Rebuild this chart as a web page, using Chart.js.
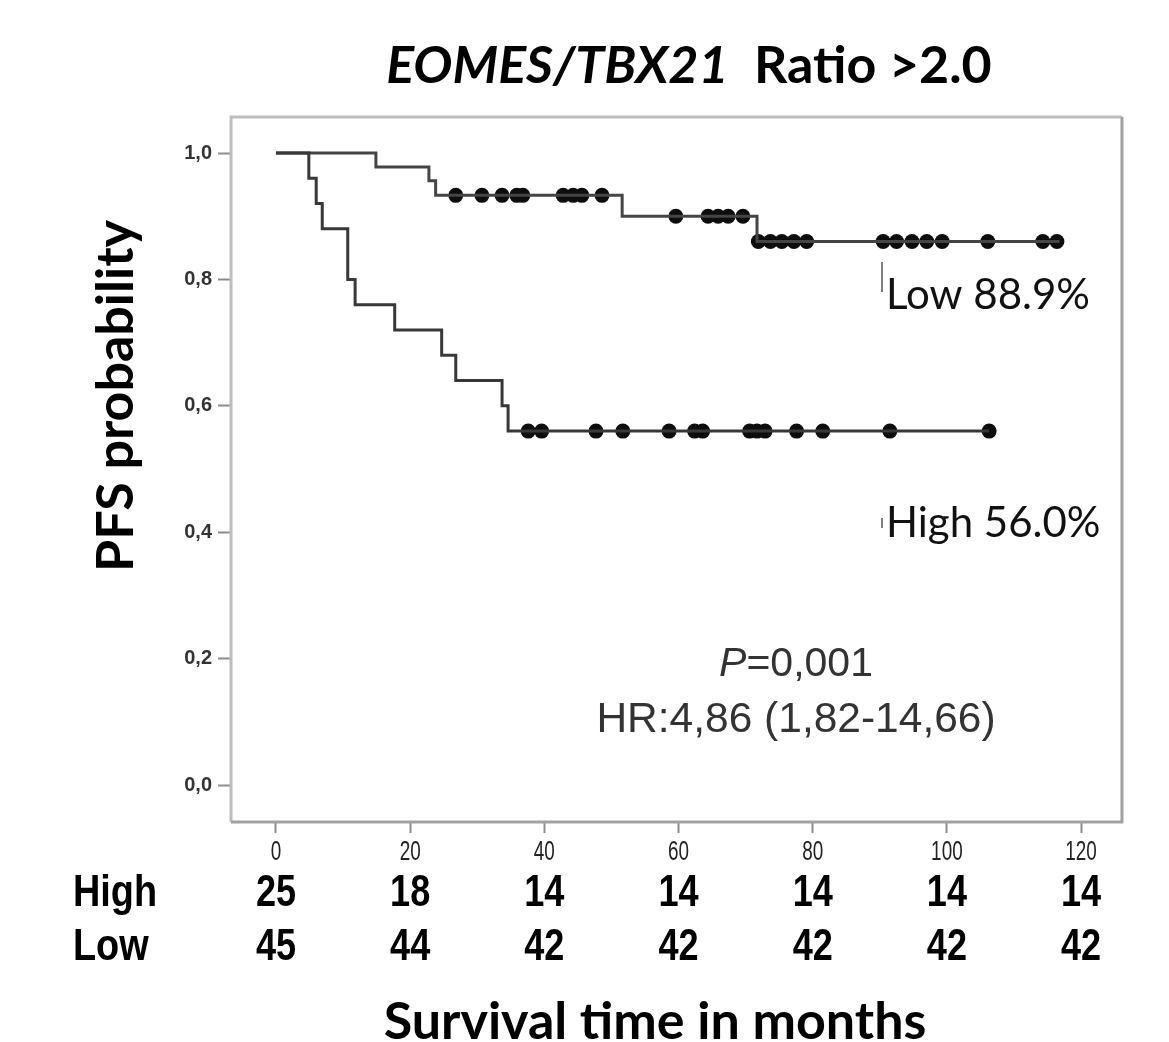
<!DOCTYPE html>
<html lang="en">
<head>
<meta charset="UTF-8">
<title>EOMES/TBX21 Ratio >2.0 - PFS</title>
<script src="https://cdn.jsdelivr.net/npm/chart.js"></script>
<style>
  html, body { margin: 0; padding: 0; background: #fff; }
  #wrap { width: 1169px; height: 1042px; }
</style>
</head>
<body>
<div id="wrap"><canvas id="km" width="1169" height="1042"></canvas></div>
<script>
// Kaplan-Meier steps: time (months) and PFS probability after each event
var lowTimes  = [0, 14.9, 22.8, 23.8, 51.6, 71.7, 116.8];
var lowSurv   = [1.0, 0.978, 0.956, 0.933, 0.900, 0.860, 0.860];
var highTimes = [0, 4.9, 6.0, 6.9, 10.7, 11.8, 17.7, 24.7, 26.8, 33.7, 34.6, 106.3];
var highSurv  = [1.0, 0.96, 0.92, 0.88, 0.80, 0.76, 0.72, 0.68, 0.64, 0.60, 0.56, 0.56];

// censored cases (months)
var lowCensored  = [26.8, 30.7, 33.7, 35.9, 36.8, 42.8, 44.3, 45.6, 48.6, 59.6, 64.4, 65.9, 67.4, 69.6,
                    71.9, 73.7, 75.4, 77.2, 79.1, 90.5, 92.5, 94.8, 97.0, 99.3, 106.1, 114.3, 116.4];
var highCensored = [37.6, 39.6, 47.7, 51.7, 58.6, 62.4, 63.6, 70.6, 71.7, 72.9, 77.6, 81.5, 91.5, 106.3];

var xTicks = [0, 20, 40, 60, 80, 100, 120];
var yTicks = [0, 0.2, 0.4, 0.6, 0.8, 1.0];

// numbers at risk
var riskLabels = ['High', 'Low'];
var riskHigh = [25, 18, 14, 14, 14, 14, 14];
var riskLow  = [45, 44, 42, 42, 42, 42, 42];

function stepPoints(times, surv) {
  return times.map(function (t, i) { return { x: t, y: surv[i] }; });
}
function survAt(times, surv, t) {
  var s = surv[0];
  for (var i = 0; i < times.length; i++) { if (times[i] <= t) s = surv[i]; }
  return s;
}
function censorPoints(cens, times, surv) {
  return cens.map(function (t) { return { x: t, y: survAt(times, surv, t) }; });
}

// condensed text (the original uses a narrow face)
function narrowText(c, txt, x, y, align, sx) {
  c.save();
  c.translate(x, y);
  c.scale(sx, 1);
  c.textAlign = align;
  c.fillText(txt, 0, 0);
  c.restore();
}

var decor = {
  id: 'decor',
  beforeDatasetsDraw: function (chart) {
    var a = chart.chartArea, c = chart.ctx;
    c.save();
    c.lineWidth = 3;
    c.strokeStyle = '#bdbdbd';
    c.beginPath();
    c.moveTo(a.left, a.bottom); c.lineTo(a.left, a.top); c.lineTo(a.right, a.top);
    c.stroke();
    c.strokeStyle = '#a2a2a2';
    c.beginPath();
    c.moveTo(a.right, a.top); c.lineTo(a.right, a.bottom); c.lineTo(a.left, a.bottom);
    c.stroke();
    c.restore();
  },
  afterDraw: function (chart) {
    var c = chart.ctx, xs = chart.scales.x;
    c.save();
    c.textBaseline = 'middle';
    c.fillStyle = '#000';

    // title
    var t1 = 'EOMES/TBX21', t2 = '  Ratio >2.0';
    c.font = 'italic bold 52px Lato';
    var w1 = c.measureText(t1).width;
    c.font = 'bold 52px Lato';
    var w2 = c.measureText(t2).width;
    var tx = 689 - (w1 + w2) / 2;
    c.textAlign = 'left';
    c.font = 'italic bold 52px Lato';
    c.fillText(t1, tx, 66);
    c.font = 'bold 52px Lato';
    c.fillText(t2, tx + w1, 66);

    // y axis title
    c.save();
    c.translate(116, 396);
    c.rotate(-Math.PI / 2);
    c.textAlign = 'center';
    c.font = 'bold 52px Lato';
    c.fillText('PFS probability', 0, 0);
    c.restore();

    // x axis title
    c.textAlign = 'center';
    c.font = 'bold 52px Lato';
    c.fillText('Survival time in months', 655, 1022);

    // x tick labels, narrow
    c.fillStyle = '#222';
    c.font = '27px "Liberation Sans"';
    xTicks.forEach(function (t) {
      narrowText(c, String(t), xs.getPixelForValue(t), 853, 'center', 0.7);
    });

    // group labels at the curve ends
    c.textAlign = 'left';
    c.font = '42px Lato';
    c.fillStyle = '#111';
    c.fillText('Low 88.9%', 886, 295);
    c.fillText('High 56.0%', 886, 523);
    c.strokeStyle = '#555';
    c.lineWidth = 1.5;
    c.beginPath();
    c.moveTo(882, 262); c.lineTo(882, 292);
    c.moveTo(882, 518); c.lineTo(882, 528);
    c.stroke();

    // statistics
    c.fillStyle = '#333';
    var p1 = 'P', p2 = '=0,001';
    c.font = 'italic 41px "Liberation Sans"';
    var pw1 = c.measureText(p1).width;
    c.font = '41px "Liberation Sans"';
    var pw2 = c.measureText(p2).width;
    var px = 796 - (pw1 + pw2) / 2;
    c.font = 'italic 41px "Liberation Sans"';
    c.fillText(p1, px, 665);
    c.font = '41px "Liberation Sans"';
    c.fillText(p2, px + pw1, 665);
    c.textAlign = 'center';
    c.font = '42.5px "Liberation Sans"';
    c.fillText('HR:4,86 (1,82-14,66)', 796, 720);

    // numbers at risk table
    c.fillStyle = '#000';
    c.font = 'bold 44px "Liberation Sans"';
    narrowText(c, riskLabels[0], 73, 894, 'left', 0.86);
    narrowText(c, riskLabels[1], 73, 948, 'left', 0.86);
    xTicks.forEach(function (t, i) {
      var x = xs.getPixelForValue(t);
      narrowText(c, String(riskHigh[i]), x, 894, 'center', 0.82);
      narrowText(c, String(riskLow[i]), x, 948, 'center', 0.82);
    });
    c.restore();
  }
};

new Chart(document.getElementById('km').getContext('2d'), {
  type: 'line',
  plugins: [decor],
  data: {
    datasets: [
      { label: 'High', data: stepPoints(highTimes, highSurv), stepped: true,
        borderColor: '#383838', borderWidth: 3, pointRadius: 0, fill: false },
      { label: 'Low', data: stepPoints(lowTimes, lowSurv), stepped: true,
        borderColor: '#454545', borderWidth: 3, pointRadius: 0, fill: false },
      { label: 'High censored', data: censorPoints(highCensored, highTimes, highSurv), showLine: false,
        pointStyle: 'circle', pointRadius: 7.5, pointBackgroundColor: '#0d0d0d', pointBorderWidth: 0 },
      { label: 'Low censored', data: censorPoints(lowCensored, lowTimes, lowSurv), showLine: false,
        pointStyle: 'circle', pointRadius: 7.5, pointBackgroundColor: '#0d0d0d', pointBorderWidth: 0 }
    ]
  },
  options: {
    responsive: false,
    animation: false,
    devicePixelRatio: 1,
    layout: { padding: { top: 117, right: 47, left: 0, bottom: 0 } },
    plugins: { legend: { display: false }, tooltip: { enabled: false }, title: { display: false } },
    scales: {
      x: {
        type: 'linear', min: -6.7, max: 126.1,
        afterFit: function (s) { s.height = 220; },
        afterBuildTicks: function (s) { s.ticks = xTicks.map(function (v) { return { value: v }; }); },
        grid: { drawOnChartArea: false, tickLength: 11, tickWidth: 2, tickColor: '#8c8c8c' },
        border: { display: false },
        ticks: { display: false }
      },
      y: {
        type: 'linear', min: -0.0585, max: 1.057,
        afterFit: function (s) { s.width = 231; },
        afterBuildTicks: function (s) { s.ticks = yTicks.map(function (v) { return { value: v }; }); },
        grid: { drawOnChartArea: false, tickLength: 13, tickWidth: 2, tickColor: '#8c8c8c' },
        border: { display: false },
        ticks: { padding: 6, color: '#333',
                 font: { family: '"Liberation Sans"', size: 20, weight: 'bold' },
                 callback: function (v) { return v.toFixed(1).replace('.', ','); } }
      }
    }
  }
});
</script>
</body>
</html>
